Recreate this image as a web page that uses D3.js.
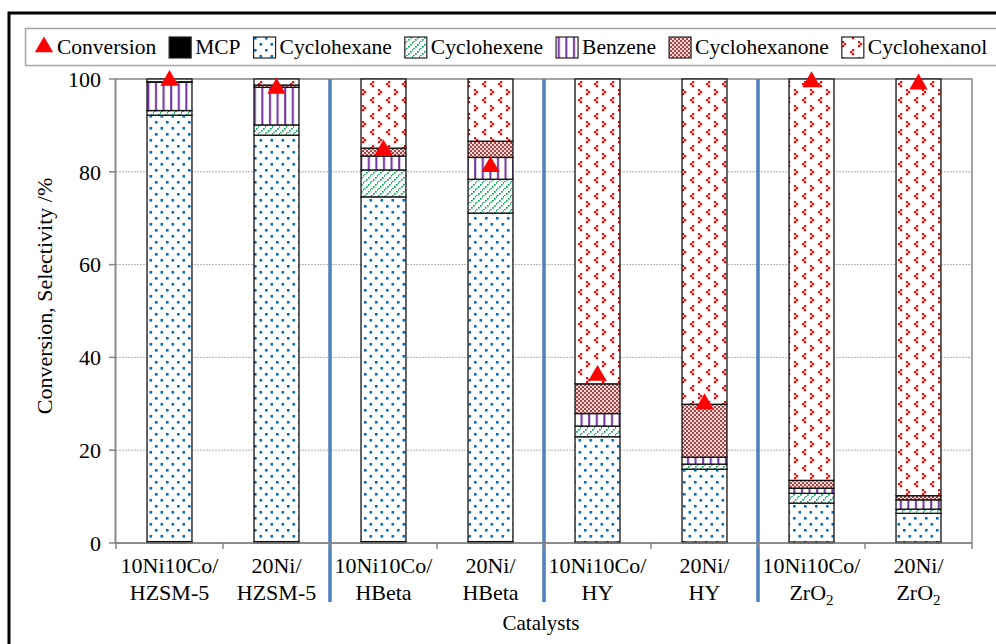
<html><head>
<meta charset="UTF-8">
<title>Conversion and selectivity</title>
<script src="https://d3js.org/d3.v7.min.js"></script>
<style>
  body { margin: 0; background: #fff; }
  text { font-family: "Liberation Serif", "Times New Roman", serif; fill: #000; }
</style>
</head>
<body>
<div id="chart"></div>
<script>
// catalysts, two lines each; third item is the subscript on line 2
const catLine1 = ["10Ni10Co/", "20Ni/", "10Ni10Co/", "20Ni/", "10Ni10Co/", "20Ni/", "10Ni10Co/", "20Ni/"];
const catLine2 = ["HZSM-5", "HZSM-5", "HBeta", "HBeta", "HY", "HY", "ZrO", "ZrO"];
const catSub = ["", "", "", "", "", "", "2", "2"];

// selectivity (%) per product, stacked bottom to top
const mcp           = [0.3, 0.3, 0.3, 0.3, 0.2, 0.2, 0.2, 0.2];
const cyclohexane   = [91.9, 87.6, 74.3, 70.8, 22.7, 15.7, 8.4, 6.2];
const cyclohexene   = [1.0, 2.2, 5.8, 7.3, 2.3, 1.1, 2.1, 0.9];
const benzene       = [6.1, 8.1, 3.0, 4.7, 2.7, 1.5, 1.1, 2.0];
const cyclohexanone = [0.1, 0.5, 1.7, 3.5, 6.4, 11.4, 1.7, 0.9];
const cyclohexanol  = [0.6, 1.3, 14.9, 13.4, 65.7, 70.1, 86.5, 89.8];
// conversion (%)
const conversion    = [99.9, 98.2, 84.9, 81.3, 36.3, 30.2, 99.6, 99.1];

const seriesNames = ["MCP", "Cyclohexane", "Cyclohexene", "Benzene", "Cyclohexanone", "Cyclohexanol"];
const seriesData = [mcp, cyclohexane, cyclohexene, benzene, cyclohexanone, cyclohexanol];
const yTicks = [0, 20, 40, 60, 80, 100];
const groupBreaks = [2, 4, 6];

const W = 996, H = 644;
const svg = d3.select("#chart").append("svg").attr("width", W).attr("height", H);
const defs = svg.append("defs");

// --- fill patterns ---
function pat(id, w, h) {
  const p = defs.append("pattern").attr("id", id).attr("patternUnits", "userSpaceOnUse")
    .attr("width", w).attr("height", h);
  p.append("rect").attr("width", w).attr("height", h).attr("fill", "#fff");
  return p;
}
// cyclohexane: blue dots
let p = pat("p-chx", 11, 12);
[[1, 1], [6.5, 7]].forEach(d => p.append("rect").attr("x", d[0]).attr("y", d[1]).attr("width", 2.6).attr("height", 2.6).attr("fill", "#0070C0"));
// cyclohexene: green dashed diagonals
p = pat("p-che", 7, 7);
[[0, 6], [2, 4], [4, 2], [6, 0]].forEach(d => p.append("rect").attr("x", d[0]).attr("y", d[1]).attr("width", 1.7).attr("height", 1.7).attr("fill", "#00B050"));
// benzene: purple vertical lines
p = pat("p-bz", 7.6, 8);
p.append("rect").attr("x", 3).attr("y", 0).attr("width", 2).attr("height", 8).attr("fill", "#7030A0");
// cyclohexanone: small checkerboard
p = pat("p-one", 4, 4);
p.select("rect").attr("fill", "#F2DCDB");
p.append("rect").attr("x", 0).attr("y", 0).attr("width", 2).attr("height", 2).attr("fill", "#A94442");
p.append("rect").attr("x", 2).attr("y", 2).attr("width", 2).attr("height", 2).attr("fill", "#A94442");
// cyclohexanol: red confetti chevrons
p = pat("p-ol", 16, 16);
[[4, 1], [2, 3], [4, 5], [10, 9], [12, 11], [10, 13]].forEach(d => p.append("rect").attr("x", d[0]).attr("y", d[1]).attr("width", 2.2).attr("height", 2.2).attr("fill", "#FF0000"));

const fills = ["#000", "url(#p-chx)", "url(#p-che)", "url(#p-bz)", "url(#p-one)", "url(#p-ol)"];

// outer frame
svg.append("rect").attr("x", 9).attr("y", 13).attr("width", 1100).attr("height", 800)
  .attr("fill", "none").attr("stroke", "#000").attr("stroke-width", 3);

// --- scales ---
const x = d3.scaleBand().domain(d3.range(catLine1.length)).range([116, 972])
  .paddingInner(0.58).paddingOuter(0.29);
const y = d3.scaleLinear().domain([0, 100]).range([543, 79]);
const step = x.step();
const x0 = 116;

// gridlines
svg.append("g").selectAll("line").data(yTicks.filter(t => t > 0 && t < 100)).join("line")
  .attr("x1", 116).attr("x2", 972).attr("y1", d => y(d)).attr("y2", d => y(d))
  .attr("stroke", "#B0B0B0").attr("stroke-width", 1).attr("stroke-dasharray", "2,1");

// plot frame
svg.append("rect").attr("x", 115.5).attr("y", y(100)).attr("width", 972 - 115.5).attr("height", y(0) - y(100))
  .attr("fill", "none").attr("stroke", "#868686").attr("stroke-width", 1.5);

// stacked bars
const stackRows = catLine1.map((c, i) => {
  const r = { i };
  seriesNames.forEach((s, k) => r[s] = seriesData[k][i]);
  return r;
});
const stacked = d3.stack().keys(seriesNames)(stackRows);
const gBars = svg.append("g");
stacked.forEach((layer, k) => {
  gBars.append("g").selectAll("rect").data(layer).join("rect")
    .attr("x", d => x(d.data.i))
    .attr("width", x.bandwidth())
    .attr("y", d => y(d[1]))
    .attr("height", d => y(d[0]) - y(d[1]))
    .attr("fill", fills[k])
    .attr("stroke", "#111").attr("stroke-width", 1.3);
});

// group separators
svg.append("g").selectAll("line").data(groupBreaks).join("line")
  .attr("x1", d => x0 + d * step).attr("x2", d => x0 + d * step)
  .attr("y1", y(100)).attr("y2", 602)
  .attr("stroke", "#4F81BD").attr("stroke-width", 3.5);

// axes lines and ticks
const gAx = svg.append("g").attr("stroke", "#868686").attr("stroke-width", 1.5);
gAx.append("line").attr("x1", 115.5).attr("x2", 115.5).attr("y1", y(100)).attr("y2", y(0));
gAx.append("line").attr("x1", 115).attr("x2", 972).attr("y1", y(0)).attr("y2", y(0));
gAx.selectAll(".yt").data(yTicks).join("line").attr("class", "yt")
  .attr("x1", 109).attr("x2", 115).attr("y1", d => y(d)).attr("y2", d => y(d));
gAx.selectAll(".xt").data(d3.range(catLine1.length + 1)).join("line").attr("class", "xt")
  .attr("x1", d => x0 + d * step).attr("x2", d => x0 + d * step).attr("y1", y(0)).attr("y2", y(0) + 6);

// y tick labels
svg.append("g").selectAll("text").data(yTicks).join("text")
  .attr("x", 101).attr("y", d => y(d)).attr("dy", "0.35em")
  .attr("text-anchor", "end").attr("font-size", 22).text(d => d);

// x labels
const gx = svg.append("g").attr("font-size", 22);
catLine1.forEach((c, i) => {
  const cx = x(i) + x.bandwidth() / 2;
  gx.append("text").attr("x", cx).attr("y", 573).attr("text-anchor", "middle").attr("font-size", 22).text(c);
  const t = gx.append("text").attr("x", cx).attr("y", 600).attr("text-anchor", "middle").attr("font-size", 22);
  t.append("tspan").text(catLine2[i]);
  if (catSub[i]) t.append("tspan").attr("font-size", 15).attr("dy", 5).text(catSub[i]);
});

svg.append("text").attr("x", 541).attr("y", 630).attr("text-anchor", "middle").attr("font-size", 21).text("Catalysts");
svg.append("text").attr("transform", "translate(52,296) rotate(-90)").attr("text-anchor", "middle")
  .attr("font-size", 22).text("Conversion, Selectivity /%");

// conversion markers
const tri = d3.symbol().type(d3.symbolTriangle).size(145);
svg.append("g").selectAll("path").data(conversion).join("path")
  .attr("transform", (d, i) => `translate(${x(i) + x.bandwidth() / 2},${y(d) + 1})`)
  .attr("d", tri).attr("fill", "#FF0000");

// legend
svg.append("rect").attr("x", 25.5).attr("y", 28.5).attr("width", 1000).attr("height", 37)
  .attr("fill", "#fff").attr("stroke", "#A6A6A6").attr("stroke-width", 1.5);
const gl = svg.append("g").attr("font-size", 21.5);
let lx = 36;
const ly = 54;
gl.append("path").attr("d", tri).attr("fill", "#FF0000").attr("transform", `translate(${lx + 8},${ly - 7})`);
lx += 21;
let tt = gl.append("text").attr("x", lx).attr("y", ly).text("Conversion");
lx += tt.node().getComputedTextLength() + 13;
seriesNames.forEach((s, k) => {
  gl.append("rect").attr("x", lx).attr("y", 37).attr("width", 22).attr("height", 21)
    .attr("fill", fills[k]).attr("stroke", "#222").attr("stroke-width", 1.2);
  lx += 26;
  tt = gl.append("text").attr("x", lx).attr("y", ly).text(s);
  lx += tt.node().getComputedTextLength() + 13;
});
</script>
</body>
</html>
